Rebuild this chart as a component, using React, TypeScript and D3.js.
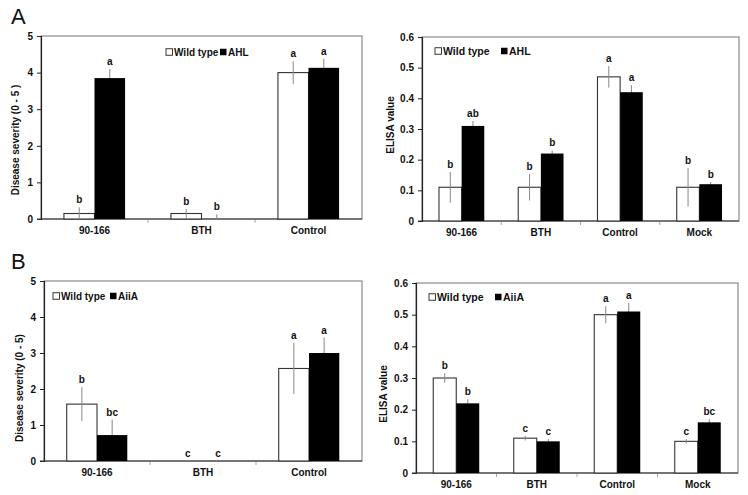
import React, { useEffect, useRef } from 'react';
import * as d3 from 'd3';

// categories
const sevCats = ['90-166', 'BTH', 'Control'];
const elisaCats = ['90-166', 'BTH', 'Control', 'Mock'];

// A left: disease severity, Wild type vs AHL
const sevA_wt = [0.15, 0.15, 4.0];
const sevA_wtErr = [0.17, 0.12, 0.31];
const sevA_mut = [3.85, 0, 4.13];
const sevA_mutErr = [0.25, 0.13, 0.25];
const sevA_wtLetters = ['b', 'b', 'a'];
const sevA_mutLetters = ['a', 'b', 'a'];

// A right: ELISA, Wild type vs AHL
const elA_wt = [0.11, 0.11, 0.47, 0.11];
const elA_wtErr = [0.05, 0.043, 0.035, 0.063];
const elA_mut = [0.31, 0.22, 0.42, 0.12];
const elA_mutErr = [0.016, 0.01, 0.023, 0.007];
const elA_wtLetters = ['b', 'b', 'a', 'b'];
const elA_mutLetters = ['ab', 'b', 'a', 'b'];

// B left: disease severity, Wild type vs AiiA
const sevB_wt = [1.58, 0, 2.57];
const sevB_wtErr = [0.47, 0, 0.71];
const sevB_mut = [0.72, 0, 3.0];
const sevB_mutErr = [0.43, 0, 0.43];
const sevB_wtLetters = ['b', 'c', 'a'];
const sevB_mutLetters = ['bc', 'c', 'a'];

// B right: ELISA, Wild type vs AiiA
const elB_wt = [0.3, 0.11, 0.5, 0.1];
const elB_wtErr = [0.015, 0.007, 0.027, 0.007];
const elB_mut = [0.22, 0.1, 0.51, 0.16];
const elB_mutErr = [0.013, 0.007, 0.027, 0.01];
const elB_wtLetters = ['b', 'c', 'a', 'c'];
const elB_mutLetters = ['b', 'c', 'a', 'bc'];

const sevTicks = [0, 1, 2, 3, 4, 5];
const elisaTicks = [0, 0.1, 0.2, 0.3, 0.4, 0.5, 0.6];

const FONT = '"Liberation Sans", Arial, sans-serif';

interface PanelOpts {
	box: { left: number; right: number; top: number; bottom: number };
	cats: string[];
	ticks: number[];
	tickFmt: (v: number) => string;
	wt: number[];
	wtErr: number[];
	mut: number[];
	mutErr: number[];
	wtLetters: string[];
	mutLetters: string[];
	yLabel: string;
	yLabelPos: { x: number; y: number };
	legend: { x: number; y: number; mutName: string; mutX: number; size: number };
	fontSize: number;
}

function drawPanel(svg: d3.Selection<SVGSVGElement, unknown, null, undefined>, o: PanelOpts) {
	const g = svg.append('g');
	const { left, right, top, bottom } = o.box;

	const x0 = d3.scaleBand().domain(o.cats).range([left, right]).paddingInner(0).paddingOuter(0);
	// two bars take up ~57% of each group
	const x1 = d3
		.scaleBand()
		.domain(['wt', 'mut'])
		.range([0, x0.bandwidth()])
		.paddingInner(0)
		.paddingOuter(0.75);
	const y = d3
		.scaleLinear()
		.domain([0, o.ticks[o.ticks.length - 1]])
		.range([bottom, top]);

	// frame
	g.append('rect')
		.attr('x', left)
		.attr('y', top)
		.attr('width', right - left)
		.attr('height', bottom - top)
		.attr('fill', 'none')
		.attr('stroke', '#8a8a8a')
		.attr('stroke-width', 1.2);

	// x ticks at group boundaries
	o.cats.forEach((c, i) => {
		if (i === 0) return;
		const xx = x0(c)!;
		g.append('line')
			.attr('x1', xx)
			.attr('x2', xx)
			.attr('y1', bottom)
			.attr('y2', bottom + 4)
			.attr('stroke', '#aaa');
	});

	// y axis
	const yAxis = d3.axisLeft(y).tickValues(o.ticks).tickFormat((v) => o.tickFmt(v as number)).tickSize(4);
	const ya = g.append('g').attr('transform', `translate(${left},0)`).call(yAxis);
	ya.select('.domain').attr('stroke', '#222').attr('stroke-width', 1.2);
	ya.selectAll('.tick line').attr('stroke', '#222');
	ya.selectAll('.tick text')
		.attr('x', -8)
		.attr('font-family', FONT)
		.attr('font-weight', 'bold')
		.attr('font-size', o.fontSize)
		.attr('fill', '#111');

	// x axis line
	g.append('line')
		.attr('x1', left - 4)
		.attr('x2', right)
		.attr('y1', bottom)
		.attr('y2', bottom)
		.attr('stroke', '#333')
		.attr('stroke-width', 1.2);

	// x labels
	o.cats.forEach((c) => {
		g.append('text')
			.attr('x', x0(c)! + x0.bandwidth() / 2)
			.attr('y', bottom + 15)
			.attr('text-anchor', 'middle')
			.attr('font-family', FONT)
			.attr('font-weight', 'bold')
			.attr('font-size', o.fontSize)
			.attr('fill', '#111')
			.text(c);
	});

	const bw = x1.bandwidth();
	const series = [
		{ key: 'wt', vals: o.wt, errs: o.wtErr, letters: o.wtLetters },
		{ key: 'mut', vals: o.mut, errs: o.mutErr, letters: o.mutLetters },
	];

	// white bars
	o.cats.forEach((c, i) => {
		if (o.wt[i] <= 0) return;
		g.append('rect')
			.attr('x', x0(c)! + x1('wt')!)
			.attr('y', y(o.wt[i]))
			.attr('width', bw)
			.attr('height', bottom - y(o.wt[i]))
			.attr('fill', '#fff')
			.attr('stroke', '#333')
			.attr('stroke-width', 1.1);
	});

	// error bars
	series.forEach((s) => {
		o.cats.forEach((c, i) => {
			const cx = x0(c)! + x1(s.key)! + bw / 2;
			const lo = Math.max(0, s.vals[i] - s.errs[i]);
			const hi = s.vals[i] + s.errs[i];
			if (s.errs[i] > 0) {
				g.append('line')
					.attr('x1', cx)
					.attr('x2', cx)
					.attr('y1', y(lo))
					.attr('y2', y(hi))
					.attr('stroke', '#888')
					.attr('stroke-width', 1);
			}
		});
	});

	// black bars
	o.cats.forEach((c, i) => {
		if (o.mut[i] <= 0) return;
		g.append('rect')
			.attr('x', x0(c)! + x1('mut')!)
			.attr('y', y(o.mut[i]))
			.attr('width', bw)
			.attr('height', bottom - y(o.mut[i]))
			.attr('fill', '#000');
	});

	// significance letters
	series.forEach((s) => {
		o.cats.forEach((c, i) => {
			const cx = x0(c)! + x1(s.key)! + bw / 2;
			const hi = s.vals[i] + s.errs[i];
			g.append('text')
				.attr('x', cx)
				.attr('y', y(hi) - 4)
				.attr('text-anchor', 'middle')
				.attr('font-family', FONT)
				.attr('font-weight', 'bold')
				.attr('font-size', o.fontSize)
				.attr('fill', '#111')
				.text(s.letters[i]);
		});
	});

	// y label
	g.append('text')
		.attr('transform', `translate(${o.yLabelPos.x},${o.yLabelPos.y}) rotate(-90)`)
		.attr('text-anchor', 'middle')
		.attr('font-family', FONT)
		.attr('font-weight', 'bold')
		.attr('font-size', o.fontSize)
		.attr('fill', '#111')
		.text(o.yLabel);

	// legend
	const L = o.legend;
	const sq = 6.5;
	g.append('rect')
		.attr('x', L.x)
		.attr('y', L.y - sq / 2)
		.attr('width', sq)
		.attr('height', sq)
		.attr('fill', '#fff')
		.attr('stroke', '#222')
		.attr('stroke-width', 0.9);
	g.append('text')
		.attr('x', L.x + sq + 1.5)
		.attr('y', L.y + L.size * 0.36)
		.attr('font-family', FONT)
		.attr('font-weight', 'bold')
		.attr('font-size', L.size)
		.attr('fill', '#111')
		.text('Wild type');
	g.append('rect')
		.attr('x', L.mutX)
		.attr('y', L.y - sq / 2)
		.attr('width', sq)
		.attr('height', sq)
		.attr('fill', '#000');
	g.append('text')
		.attr('x', L.mutX + sq + 1.5)
		.attr('y', L.y + L.size * 0.36)
		.attr('font-family', FONT)
		.attr('font-weight', 'bold')
		.attr('font-size', L.size)
		.attr('fill', '#111')
		.text(L.mutName);
}

const App: React.FC = () => {
	const ref = useRef<SVGSVGElement>(null);

	useEffect(() => {
		if (!ref.current) return;
		const svg = d3.select(ref.current);
		svg.selectAll('*').remove();

		svg.append('rect').attr('width', 748).attr('height', 495).attr('fill', '#fff');

		const sevFmt = (v: number) => d3.format('d')(v);
		const elFmt = (v: number) => (v === 0 ? '0' : d3.format('.1f')(v));

		drawPanel(svg, {
			box: { left: 41, right: 362, top: 36, bottom: 219 },
			cats: sevCats,
			ticks: sevTicks,
			tickFmt: sevFmt,
			wt: sevA_wt,
			wtErr: sevA_wtErr,
			mut: sevA_mut,
			mutErr: sevA_mutErr,
			wtLetters: sevA_wtLetters,
			mutLetters: sevA_mutLetters,
			yLabel: 'Disease severity (0 - 5 )',
			yLabelPos: { x: 19, y: 140 },
			legend: { x: 166, y: 52, mutName: 'AHL', mutX: 220, size: 10 },
			fontSize: 10,
		});

		drawPanel(svg, {
			box: { left: 422, right: 739, top: 37, bottom: 221 },
			cats: elisaCats,
			ticks: elisaTicks,
			tickFmt: elFmt,
			wt: elA_wt,
			wtErr: elA_wtErr,
			mut: elA_mut,
			mutErr: elA_mutErr,
			wtLetters: elA_wtLetters,
			mutLetters: elA_mutLetters,
			yLabel: 'ELISA value',
			yLabelPos: { x: 394, y: 125 },
			legend: { x: 435, y: 51, mutName: 'AHL', mutX: 501, size: 10.5 },
			fontSize: 10,
		});

		drawPanel(svg, {
			box: { left: 44, right: 362, top: 281, bottom: 461 },
			cats: sevCats,
			ticks: sevTicks,
			tickFmt: sevFmt,
			wt: sevB_wt,
			wtErr: sevB_wtErr,
			mut: sevB_mut,
			mutErr: sevB_mutErr,
			wtLetters: sevB_wtLetters,
			mutLetters: sevB_mutLetters,
			yLabel: 'Disease severity (0 - 5)',
			yLabelPos: { x: 23, y: 388 },
			legend: { x: 53, y: 296, mutName: 'AiiA', mutX: 110, size: 10 },
			fontSize: 10,
		});

		drawPanel(svg, {
			box: { left: 416, right: 738, top: 283, bottom: 473 },
			cats: elisaCats,
			ticks: elisaTicks,
			tickFmt: elFmt,
			wt: elB_wt,
			wtErr: elB_wtErr,
			mut: elB_mut,
			mutErr: elB_mutErr,
			wtLetters: elB_wtLetters,
			mutLetters: elB_mutLetters,
			yLabel: 'ELISA value',
			yLabelPos: { x: 387, y: 394 },
			legend: { x: 429, y: 297, mutName: 'AiiA', mutX: 495, size: 10.5 },
			fontSize: 10,
		});

		// panel letters
		svg.append('text')
			.attr('x', 11)
			.attr('y', 24)
			.attr('font-family', FONT)
			.attr('font-size', 22)
			.attr('fill', '#111')
			.text('A');
		svg.append('text')
			.attr('x', 11)
			.attr('y', 269)
			.attr('font-family', FONT)
			.attr('font-size', 22)
			.attr('fill', '#111')
			.text('B');
	}, []);

	return (
		<svg
			ref={ref}
			width={748}
			height={495}
			style={{ position: 'absolute', left: 0, top: 0, display: 'block' }}
		/>
	);
};

export default App;
